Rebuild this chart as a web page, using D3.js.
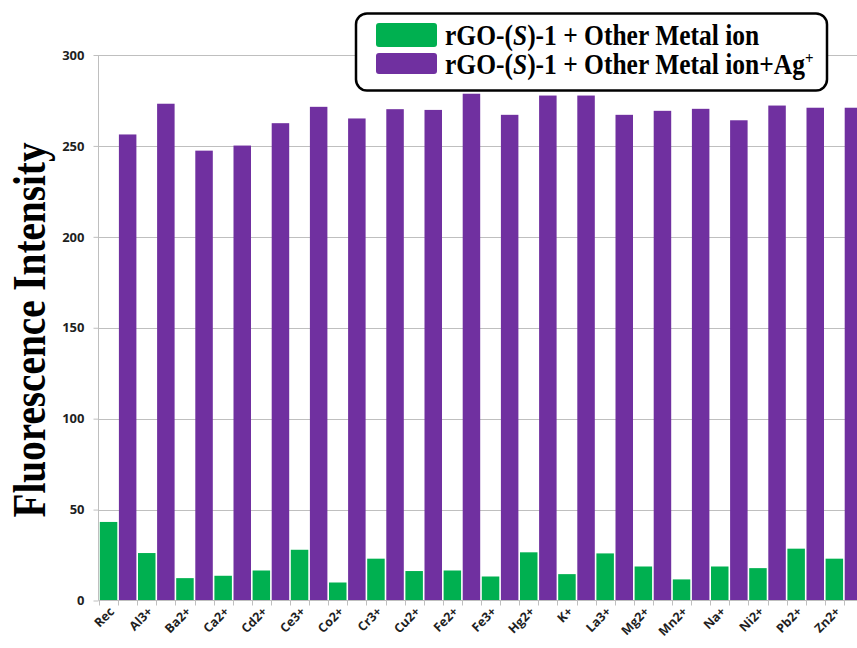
<!DOCTYPE html>
<html>
<head>
<meta charset="utf-8">
<script src="https://cdn.jsdelivr.net/npm/d3@7"></script>
<style>
  html, body { margin: 0; padding: 0; background: #fff; }
  svg { display: block; }
</style>
</head>
<body>
<svg id="chart" width="857" height="648"></svg>
<script>
// Metal ions tested
const categories = ["Rec", "Al3+", "Ba2+", "Ca2+", "Cd2+", "Ce3+", "Co2+", "Cr3+", "Cu2+", "Fe2+",
                    "Fe3+", "Hg2+", "K+", "La3+", "Mg2+", "Mn2+", "Na+", "Ni2+", "Pb2+", "Zn2+"];
// rGO-(S)-1 + other metal ion
const metalOnly = [43.2, 26.1, 12.3, 13.6, 16.5, 27.9, 9.9, 23.0, 16.2, 16.5,
                   13.2, 26.5, 14.5, 25.9, 18.7, 11.6, 18.7, 17.8, 28.5, 23.0];
// rGO-(S)-1 + other metal ion + Ag+
const metalPlusAg = [256.3, 273.2, 247.4, 250.2, 262.5, 271.5, 265.1, 270.2, 269.8, 278.7,
                     267.1, 277.7, 277.7, 267.1, 269.3, 270.4, 264.1, 272.2, 271.0, 271.0];
const yTicks = [0, 50, 100, 150, 200, 250, 300];
const seriesKeys = ["metalOnly", "metalPlusAg"];
const seriesColors = ["#00b050", "#7030a0"];

const rows = categories.map((c, i) => ({ cat: c, metalOnly: metalOnly[i], metalPlusAg: metalPlusAg[i] }));

const svg = d3.select("#chart");
const plotLeft = 98.5, plotBottom = 600.5, plotTop = 55;
const serif = "'Liberation Serif', 'Times New Roman', serif";
const sans = "'Open Sans', 'Noto Sans', sans-serif";

const x = d3.scaleBand().domain(categories).range([plotLeft + 0.5, plotLeft + 0.5 + 20 * 38.2]).padding(0);
const xs = d3.scaleBand().domain(seriesKeys).range([0, x.bandwidth()]).padding(0);
const y = d3.scaleLinear().domain([0, 300]).range([plotBottom, plotTop]);

// horizontal gridlines
svg.append("g")
  .selectAll("line")
  .data(yTicks.filter(d => d > 0))
  .join("line")
  .attr("x1", plotLeft).attr("x2", 857)
  .attr("y1", d => Math.round(y(d)) + 0.5).attr("y2", d => Math.round(y(d)) + 0.5)
  .attr("stroke", "#bfbfbf").attr("stroke-width", 1);

// bars
const groups = svg.append("g")
  .selectAll("g")
  .data(rows)
  .join("g")
  .attr("transform", d => `translate(${x(d.cat)},0)`);

groups.selectAll("rect")
  .data(d => seriesKeys.map((k, j) => ({ key: k, value: d[k], color: seriesColors[j] })))
  .join("rect")
  .attr("x", d => xs(d.key) + 0.8)
  .attr("width", xs.bandwidth() - 1.6)
  .attr("y", d => y(d.value))
  .attr("height", d => y(0) - y(d.value))
  .attr("fill", d => d.color);

// y axis
const yAxis = d3.axisLeft(y).tickValues(yTicks).tickSize(5).tickPadding(9);
const yg = svg.append("g").attr("transform", `translate(${plotLeft},0)`).call(yAxis);
yg.select(".domain").attr("stroke", "#bfbfbf").attr("d", `M0,${plotTop}V${plotBottom}`);
yg.selectAll(".tick line").attr("stroke", "#bfbfbf");
yg.selectAll(".tick text")
  .attr("fill", "#1f1f1f")
  .style("font-family", sans)
  .style("font-weight", "bold")
  .style("font-size", "13px");

// x axis: baseline with ticks at every bar boundary
const xg = svg.append("g");
xg.append("line")
  .attr("x1", plotLeft).attr("x2", 857)
  .attr("y1", plotBottom).attr("y2", plotBottom)
  .attr("stroke", "#bfbfbf");
const boundaries = [];
categories.forEach(c => {
  boundaries.push(x(c));
  boundaries.push(x(c) + xs("metalPlusAg"));
});
xg.selectAll("line.tk")
  .data(boundaries)
  .join("line")
  .attr("class", "tk")
  .attr("x1", d => Math.round(d) + 0.5).attr("x2", d => Math.round(d) + 0.5)
  .attr("y1", plotBottom).attr("y2", plotBottom + 5)
  .attr("stroke", "#bfbfbf");

xg.selectAll("text")
  .data(categories)
  .join("text")
  .attr("transform", d => `translate(${x(d) + x.bandwidth() / 2 - 3},${plotBottom + 12}) rotate(-45)`)
  .attr("text-anchor", "end")
  .attr("fill", "#1f1f1f")
  .style("font-family", sans)
  .style("font-weight", "bold")
  .style("font-size", "12.5px")
  .text(d => d);

// y-axis title
svg.append("text")
  .attr("transform", "translate(45,330) rotate(-90)")
  .attr("text-anchor", "middle")
  .attr("textLength", 375)
  .attr("lengthAdjust", "spacingAndGlyphs")
  .style("font-family", serif)
  .style("font-weight", "bold")
  .style("font-size", "46px")
  .attr("fill", "#000")
  .text("Fluorescence Intensity");

// legend
const lg = svg.append("g");
lg.append("rect")
  .attr("x", 356).attr("y", 13.5)
  .attr("width", 471).attr("height", 77)
  .attr("rx", 11).attr("ry", 11)
  .attr("fill", "#fff")
  .attr("stroke", "#000").attr("stroke-width", 2.5);

const legendItems = [
  { color: seriesColors[0], y: 23, h: 24, base: 45, ag: false },
  { color: seriesColors[1], y: 53, h: 21, base: 74, ag: true }
];
legendItems.forEach(it => {
  lg.append("rect")
    .attr("x", 376).attr("y", it.y)
    .attr("width", 61).attr("height", it.h)
    .attr("rx", 3)
    .attr("fill", it.color);
  const t = lg.append("text")
    .attr("transform", `translate(445,${it.base}) scale(1,1.15)`)
    .style("font-family", serif)
    .style("font-weight", "bold")
    .style("font-size", "25.5px")
    .attr("fill", "#000");
  t.append("tspan").text("rGO-(");
  t.append("tspan").style("font-style", "italic").text("S");
  t.append("tspan").text(")-1 + Other Metal ion");
  if (it.ag) {
    t.append("tspan").text("+Ag");
    t.append("tspan").attr("dy", -9).style("font-size", "15px").text("+");
  }
});
</script>
</body>
</html>
